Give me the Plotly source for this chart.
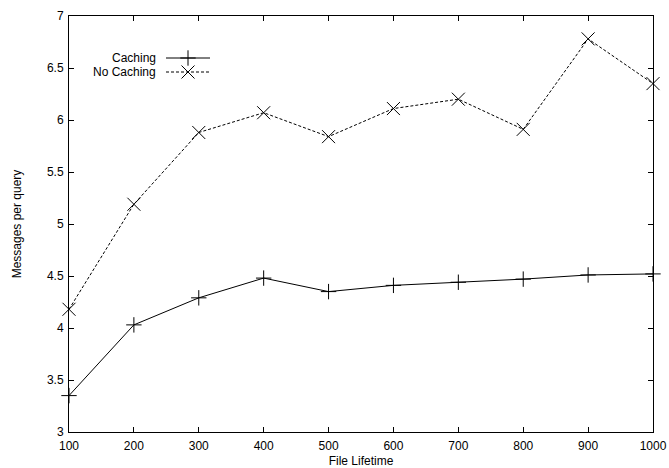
import plotly.graph_objects as go

file_lifetime = [100, 200, 300, 400, 500, 600, 700, 800, 900, 1000]
caching = [3.35, 4.03, 4.29, 4.48, 4.35, 4.41, 4.44, 4.47, 4.51, 4.52]
no_caching = [4.18, 5.19, 5.88, 6.07, 5.84, 6.11, 6.20, 5.91, 6.78, 6.35]
series_names = ["Caching", "No Caching"]

W, H = 669, 468
L, R, T, B = 69, 16, 16, 36
FONT = dict(family="Liberation Sans, Arial, sans-serif", size=12, color="black")
SYMBOLS = ["cross-thin-open", "x-thin-open"]
SIZES = [11, 13]
DASHES = ["solid", "3px,2px"]

fig = go.Figure()
for i, ys in enumerate([caching, no_caching]):
    fig.add_trace(go.Scatter(
        x=file_lifetime, y=ys, mode="lines+markers", name=series_names[i],
        line=dict(color="black", width=1, dash=DASHES[i]),
        marker=dict(symbol=SYMBOLS[i], size=SIZES[i], color="black",
                    line=dict(color="black", width=1)),
        showlegend=False, cliponaxis=False))

# Custom gnuplot-style legend (text right-aligned, sample on the right)
pw = W - L - R
ph = H - T - B
def px2x(p):
    return (p - L) / pw
def py2y(p):
    return 1 - (p - T) / ph

leg_rows = [58, 72]
for i, name in enumerate(series_names):
    yy = py2y(leg_rows[i])
    fig.add_annotation(x=px2x(158), y=yy, xref="paper", yref="paper",
                       text=name, showarrow=False, xanchor="right", yanchor="middle",
                       font=FONT)
    fig.add_shape(type="line", xref="paper", yref="paper",
                  x0=px2x(166), x1=px2x(210), y0=yy, y1=yy,
                  line=dict(color="black", width=1, dash=DASHES[i]))
    fig.add_trace(go.Scatter(
        x=[px2x(188)], y=[yy], xaxis="x2", yaxis="y2", mode="markers",
        marker=dict(symbol=SYMBOLS[i], size=SIZES[i], color="black",
                    line=dict(color="black", width=1)),
        showlegend=False, hoverinfo="skip"))

axis_common = dict(
    showline=True, linecolor="black", linewidth=1, mirror="ticks",
    ticks="inside", ticklen=5, tickcolor="black", tickwidth=1,
    showgrid=False, zeroline=False, tickfont=FONT, automargin=False,
)
fig.update_layout(
    width=W, height=H,
    margin=dict(l=L, r=R, t=T, b=B, pad=0, autoexpand=False),
    plot_bgcolor="white", paper_bgcolor="white",
    font=FONT,
    xaxis=dict(range=[100, 1000], tickvals=file_lifetime, ticklabelstandoff=3,
               title=dict(text="File Lifetime", font=FONT, standoff=12),
               **axis_common),
    yaxis=dict(range=[3, 7], dtick=0.5, ticklabelstandoff=2,
               title=dict(text="Messages per query", font=FONT, standoff=22),
               **axis_common),
    xaxis2=dict(range=[0, 1], overlaying="x", visible=False, fixedrange=True),
    yaxis2=dict(range=[0, 1], overlaying="y", visible=False, fixedrange=True),
)

fig.write_html("out.html")
